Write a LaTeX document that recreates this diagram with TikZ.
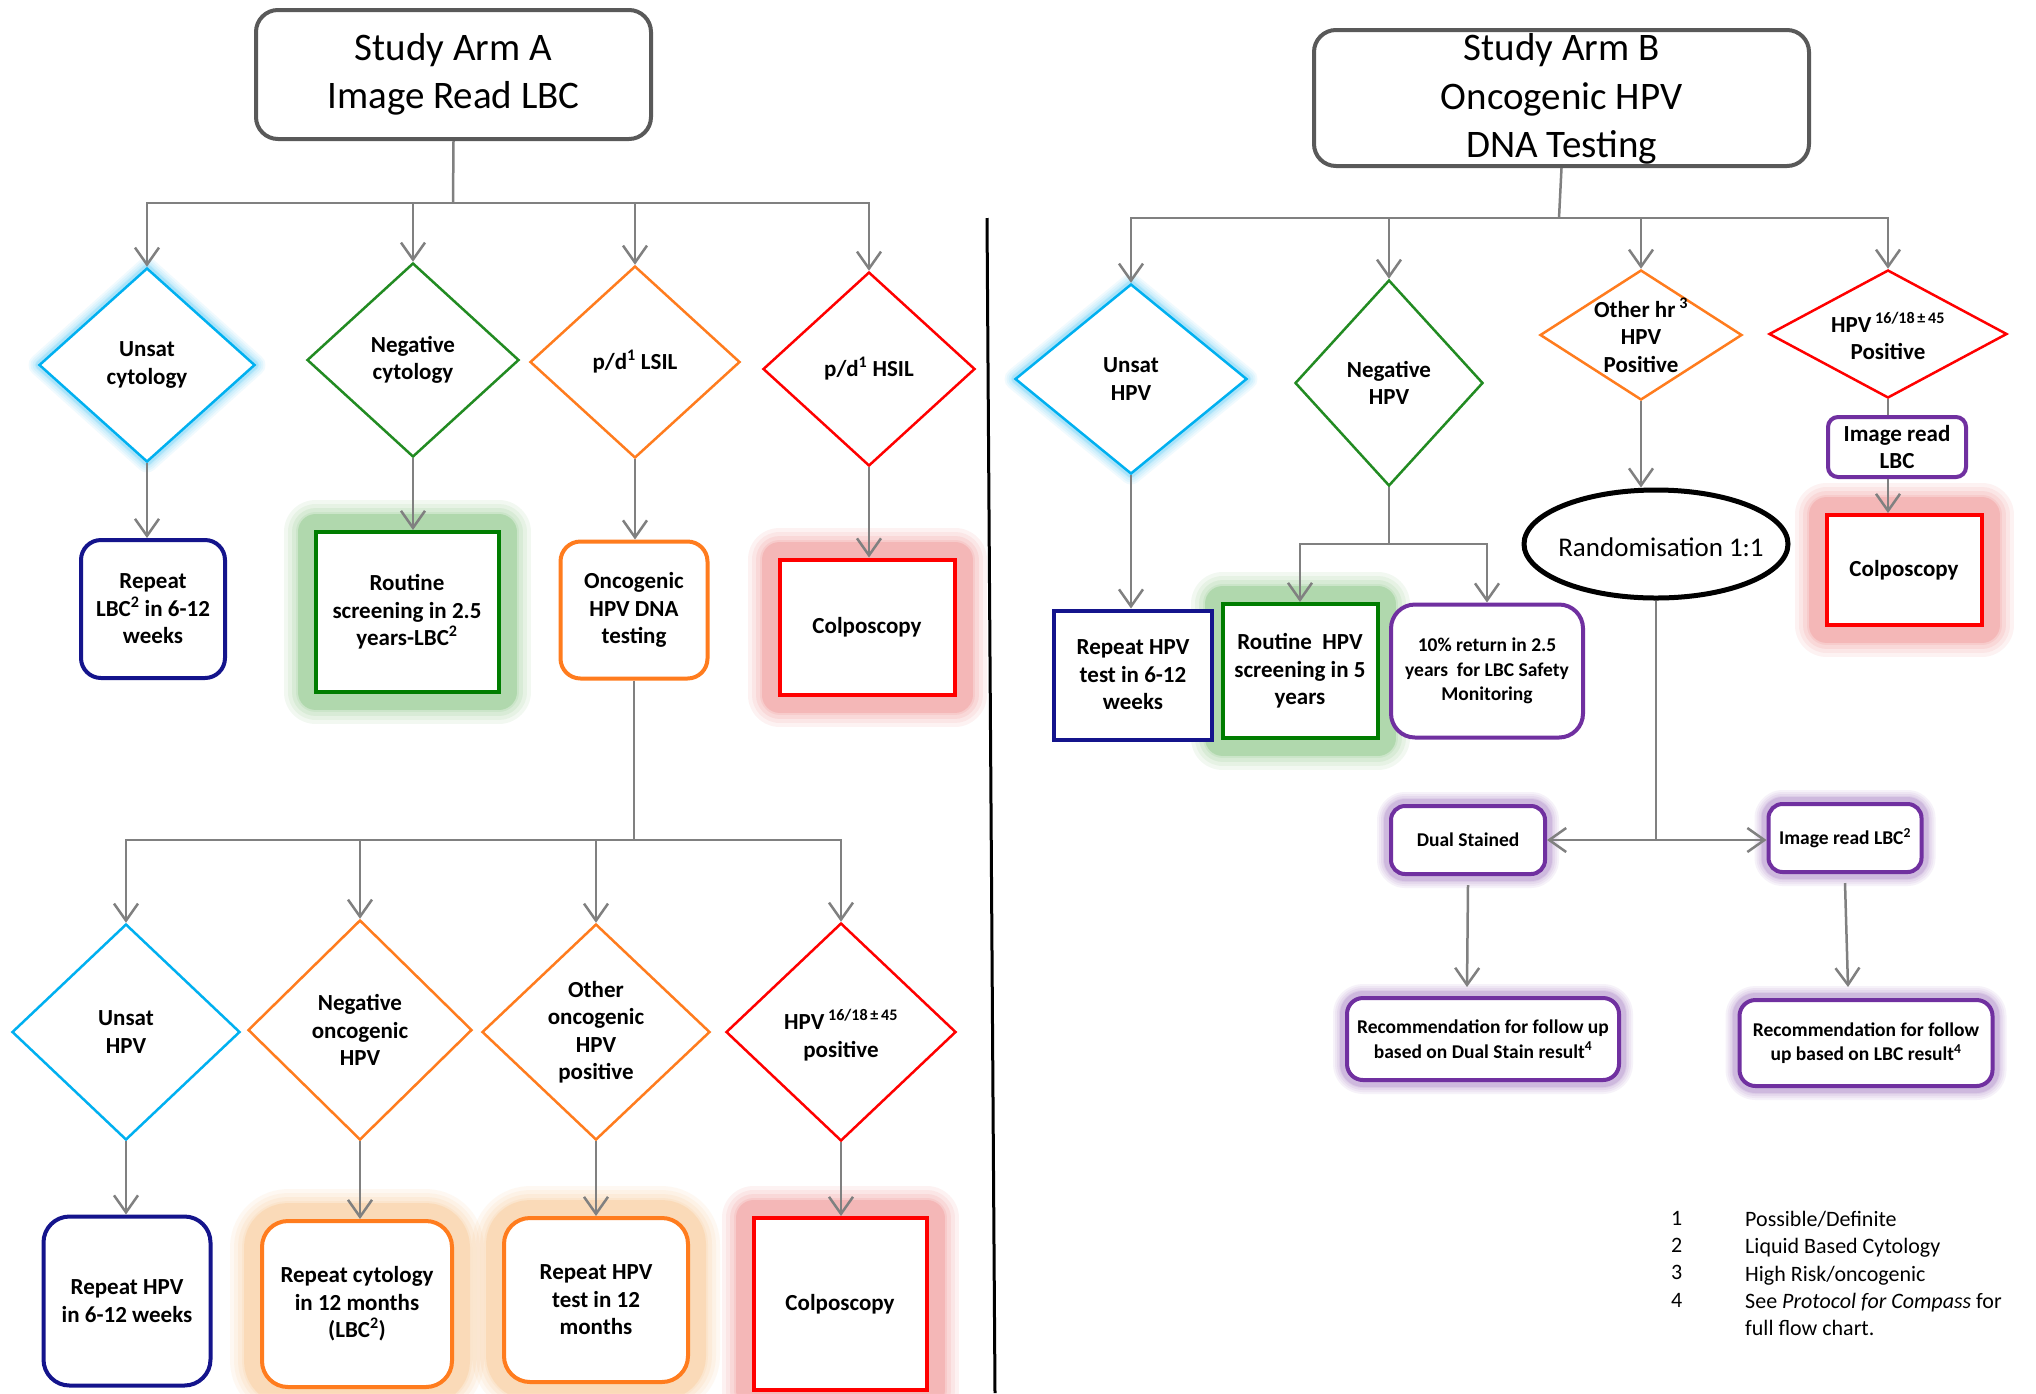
\documentclass[tikz,border=0pt]{standalone}
\usepackage{fontspec}
\setmainfont{Carlito}
\usetikzlibrary{arrows.meta,shapes.geometric}
\definecolor{cyanC}{RGB}{0,176,240}
\definecolor{greenD}{RGB}{34,139,34}
\definecolor{greenB}{RGB}{0,125,0}
\definecolor{orangeC}{RGB}{255,124,30}
\definecolor{redC}{RGB}{255,0,0}
\definecolor{navyC}{RGB}{20,20,140}
\definecolor{purpleC}{RGB}{112,48,160}
\definecolor{lineG}{RGB}{128,128,128}
\definecolor{titleG}{RGB}{89,89,89}
\definecolor{glowG}{RGB}{40,150,30}
\definecolor{glowR}{RGB}{225,40,40}
\definecolor{glowO}{RGB}{250,150,50}
\newcommand\BoldTxt{\fontsize{23}{27.5}\selectfont\bfseries}
\newcommand\SmallBold{\fontsize{19.5}{24.5}\selectfont\bfseries}
\newcommand\TitleTxt{\fontsize{39}{48.5}\selectfont}
\begin{document}
\begin{tikzpicture}[x=1pt,y=-1pt,
  diam/.style={diamond, draw=#1, line width=2.5pt, inner sep=0pt, fill=white},
  sqbox/.style={rectangle, draw=#1, line width=4pt, fill=white, inner sep=0pt, align=center, font=\BoldTxt},
  rdbox/.style={sqbox=#1, rounded corners=20pt},
  txtb/.style={font=\BoldTxt, align=center, inner sep=0pt},
  glowc/.style n args={4}{
    preaction={draw=#1,line width=#2+7*#3,opacity=0.06,line join=round},
    preaction={draw=#1,line width=#2+5*#3,opacity=0.06,line join=round},
    preaction={draw=#1,line width=#2+3*#3,opacity=0.07,line join=round},
    preaction={draw=#1,line width=#2+#3,opacity=0.07,line join=round},
    preaction={draw=#1,line width=#2,opacity=#4,line join=round}},
  arr/.style={draw=lineG, line width=2.5pt, -{Straight Barb[length=17pt,width=24pt]}},
  ln/.style={draw=lineG, line width=2.5pt},
  titlebox/.style={rectangle, draw=titleG, line width=4pt, rounded corners=22pt, fill=white, inner sep=0pt, align=center, font=\TitleTxt}
]
\useasboundingbox (0,0) rectangle (2036,1393);
\fill[white] (0,0) rectangle (2036,1393);

% ---------------- Arm A ----------------
\node[titlebox, minimum width=395pt, minimum height=129pt] (tA) at (453.5,74.5) {Study Arm A\\Image Read LBC};
\coordinate (busA) at (453,203);

\node[diam=cyanC, glowc={cyanC}{8pt}{2pt}{0.12}, minimum width=216pt, minimum height=194pt] (dA1) at (147,365) {};
\node[diam=greenD, minimum width=212pt, minimum height=194pt] (dA2) at (413,360) {};
\node[diam=orangeC, minimum width=210pt, minimum height=192pt] (dA3) at (635,362) {};
\node[diam=redC, minimum width=212pt, minimum height=194pt] (dA4) at (869,369) {};
\node[txtb] (dA1t) at (dA1) {Unsat\\cytology};
\node[txtb] (dA2t) at (dA2) {Negative\\cytology};
\node[txtb] (dA3t) at (dA3) {p/d\textsuperscript{1} LSIL};
\node[txtb] (dA4t) at (dA4) {p/d\textsuperscript{1} HSIL};

\draw[ln] (tA.south) -- (busA);
\draw[arr] (busA) -| (dA1.north);
\draw[arr] (busA) -| (dA2.north);
\draw[arr] (busA) -| (dA3.north);
\draw[arr] (busA) -| (dA4.north);

\node[sqbox=greenB, glowc={glowG}{36pt}{4pt}{0.16}, minimum width=183pt, minimum height=160pt] (bA2) at (407,612) {Routine\\screening in 2.5\\years-LBC\textsuperscript{2}};
\node[sqbox=redC, glowc={glowR}{36pt}{4pt}{0.12}, minimum width=175pt, minimum height=135pt] (bA4) at (867,627) {Colposcopy};
\node[rdbox=navyC, minimum width=144pt, minimum height=138pt] (bA1) at (153,609) {Repeat\\LBC\textsuperscript{2} in 6-12\\weeks};
\node[rdbox=orangeC, minimum width=147pt, minimum height=137pt] (bA3) at (634,610) {Oncogenic\\HPV DNA\\testing};

\draw[arr] (dA1.south) -- (dA1.south |- bA1.north);
\draw[arr] (dA2.south) -- (dA2.south |- bA2.north);
\draw[arr] (dA3.south) -- (dA3.south |- bA3.north);
\draw[arr] (dA4.south) -- (dA4.south |- bA4.north);

\coordinate (busA2) at (634,840);
\draw[ln] (bA3.south) -- (busA2);

\node[diam=cyanC, minimum width=228pt, minimum height=216pt] (dA5) at (126,1032) {};
\node[diam=orangeC, minimum width=224pt, minimum height=220pt] (dA6) at (360,1030) {};
\node[diam=orangeC, minimum width=228pt, minimum height=216pt] (dA7) at (596,1032) {};
\node[diam=redC, minimum width=230pt, minimum height=218pt] (dA8) at (841,1032) {};
\node[txtb] (dA5t) at (dA5) {Unsat\\HPV};
\node[txtb] (dA6t) at (dA6) {Negative\\oncogenic\\HPV};
\node[txtb] (dA7t) at (dA7) {Other\\oncogenic\\HPV\\positive};
\node[txtb] (dA8t) at (841,1035) {HPV\,\textsuperscript{16/18\,±\,45}\\positive};

\draw[arr] (busA2) -| (dA5.north);
\draw[arr] (busA2) -| (dA6.north);
\draw[arr] (busA2) -| (dA7.north);
\draw[arr] (busA2) -| (dA8.north);

\node[rdbox=orangeC, rounded corners=26pt, glowc={glowO}{36pt}{4pt}{0.13}, minimum width=190pt, minimum height=166pt] (bA6) at (357,1304) {Repeat cytology\\in 12 months\\(LBC\textsuperscript{2})};
\node[rdbox=orangeC, rounded corners=26pt, glowc={glowO}{36pt}{4pt}{0.13}, minimum width=184pt, minimum height=164pt] (bA7) at (596,1300) {Repeat HPV\\test in 12\\months};
\node[sqbox=redC, glowc={glowR}{36pt}{4pt}{0.12}, minimum width=173pt, minimum height=172pt] (bA8) at (840,1304) {Colposcopy};
\node[rdbox=navyC, rounded corners=26pt, minimum width=167pt, minimum height=169pt] (bA5) at (127,1301) {Repeat HPV\\in 6-12 weeks};

\draw[arr] (dA5.south) -- (dA5.south |- bA5.north);
\draw[arr] (dA6.south) -- (dA6.south |- bA6.north);
\draw[arr] (dA7.south) -- (dA7.south |- bA7.north);
\draw[arr] (dA8.south) -- (dA8.south |- bA8.north);

% divider
\coordinate (divT) at (987,218);
\coordinate (divB) at (995,1393);
\draw[black, line width=3pt] (divT) -- (divB);

% ---------------- Arm B ----------------
\node[titlebox, minimum width=495pt, minimum height=136pt] (tB) at (1561.5,98) {};
\node[inner sep=0pt, align=center, font=\TitleTxt] (tBt) at (1561.5,99) {Study Arm B\\Oncogenic HPV\\DNA Testing};
\coordinate (busB) at (1559,218);

\node[diam=cyanC, glowc={cyanC}{8pt}{2pt}{0.12}, minimum width=232pt, minimum height=190pt] (dB1) at (1131,379) {};
\node[diam=greenD, minimum width=188pt, minimum height=206pt] (dB2) at (1389,383) {};
\node[diam=orangeC, minimum width=202pt, minimum height=130pt] (dB3) at (1641,335) {};
\node[diam=redC, minimum width=238pt, minimum height=128pt] (dB4) at (1888,334) {};
\node[txtb] (dB1t) at (dB1) {Unsat\\HPV};
\node[txtb] (dB2t) at (dB2) {Negative\\HPV};
\node[txtb] (dB3t) at (dB3) {Other hr\,\textsuperscript{3}\\HPV\\Positive};
\node[txtb] (dB4t) at (1888,336) {HPV\,\textsuperscript{16/18\,±\,45}\\Positive};

\draw[ln] (tB.south) -- (busB);
\draw[arr] (busB) -| (dB1.north);
\draw[arr] (busB) -| (dB2.north);
\draw[arr] (busB) -| (dB3.north);
\draw[arr] (busB) -| (dB4.north);

\node[sqbox=greenB, glowc={glowG}{36pt}{4pt}{0.16}, minimum width=155pt, minimum height=134pt] (bB2) at (1300,671) {Routine~~HPV\\screening in 5\\years};
\node[sqbox=navyC, minimum width=158pt, minimum height=129pt] (bB1) at (1133,675) {Repeat HPV\\test in 6-12\\weeks};
\node[rdbox=purpleC, rounded corners=24pt, minimum width=192pt, minimum height=133pt, font=\SmallBold] (bB3) at (1487,671) {10\% return in 2.5\\years~~for LBC Safety\\Monitoring};

\draw[arr] (dB1.south) -- (dB1.south |- bB1.north);
\coordinate (splitB) at (1389,544);
\draw[ln] (dB2.south) -- (splitB);
\draw[arr] (splitB) -| (bB2.north);
\draw[arr] (splitB) -| (bB3.north);

% HPV16/18 branch
\node[sqbox=redC, glowc={glowR}{36pt}{4pt}{0.12}, minimum width=155pt, minimum height=110pt] (colB) at (1904,570) {Colposcopy};
\node[rdbox=purpleC, rounded corners=10pt, minimum width=138pt, minimum height=60pt] (imgB) at (1897,447) {Image read\\LBC};
\draw[ln] (dB4.south) -- (dB4.south |- imgB.north);
\draw[arr] (dB4.south |- imgB.south) -- (dB4.south |- colB.north);

% randomisation
\node[ellipse, draw=black, line width=5pt, minimum width=264pt, minimum height=108pt, inner sep=0pt, fill=white] (ell) at (1656,544) {};
\node[inner sep=0pt, font=\fontsize{27}{32}\selectfont] (ellt) at (1661,547) {Randomisation 1:1};
\draw[arr] (dB3.south) -- (dB3.south |- ell.north);

\coordinate (rsplit) at (1656,840);
\draw[ln] (ell.south) -- (rsplit);

\node[rdbox=purpleC, rounded corners=14pt, glowc={purpleC}{14pt}{2pt}{0.12}, minimum width=154pt, minimum height=68pt, font=\SmallBold] (dual) at (1468,840) {Dual Stained};
\node[rdbox=purpleC, rounded corners=14pt, glowc={purpleC}{14pt}{2pt}{0.12}, minimum width=153pt, minimum height=68pt, font=\SmallBold] (img2) at (1845,838) {Image read LBC\textsuperscript{2}};
\draw[arr] (rsplit) -- (rsplit -| dual.east);
\draw[arr] (rsplit) -- (rsplit -| img2.west);

\node[rdbox=purpleC, rounded corners=16pt, glowc={purpleC}{14pt}{2pt}{0.12}, minimum width=272pt, minimum height=82pt, font=\SmallBold] (rec1) at (1483,1039) {Recommendation for follow up\\based on Dual Stain result\textsuperscript{4}};
\node[rdbox=purpleC, rounded corners=16pt, glowc={purpleC}{14pt}{2pt}{0.12}, minimum width=253pt, minimum height=86pt, font=\SmallBold] (rec2) at (1866,1043) {Recommendation for follow\\up based on LBC result\textsuperscript{4}};
\coordinate (rec1top) at (1467,987);
\coordinate (rec2top) at (1848,987);
\draw[arr] (dual.south) ++(0,9) -- (rec1top);
\draw[arr] (img2.south) ++(0,9) -- (rec2top);

% footnotes
\node[anchor=north west, inner sep=0pt, align=left, font=\fontsize{22}{27.3}\selectfont] (fnum) at (1671,1211) {1\\2\\3\\4};
\node[anchor=north west, inner sep=0pt, align=left, font=\fontsize{22}{27.3}\selectfont] (ftxt) at (1745,1211) {Possible/Definite\\Liquid Based Cytology\\High Risk/oncogenic\\See \textit{Protocol for Compass} for\\full flow chart.};
\end{tikzpicture}
\end{document}
